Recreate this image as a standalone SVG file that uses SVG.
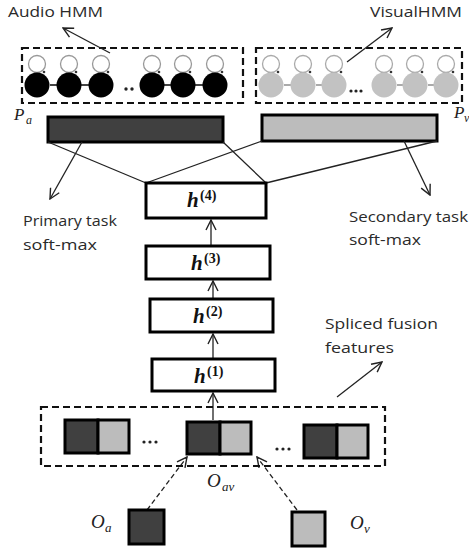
<svg xmlns="http://www.w3.org/2000/svg" width="469" height="548" viewBox="0 0 469 548">
<defs>
<marker id="arr" viewBox="0 0 12 12" refX="11" refY="6" markerWidth="12" markerHeight="12" markerUnits="userSpaceOnUse" orient="auto">
<path d="M1,1 L11,6 L1,11" fill="none" stroke="#222" stroke-width="1.4"/>
</marker>
<g id="aloop"><circle cx="0" cy="-21" r="8.5" fill="none" stroke="#999" stroke-width="1.3"/><circle cx="0" cy="0" r="12.5" fill="#000"/><circle cx="7" cy="-13" r="1.3" fill="#333"/></g>
<g id="vloop"><circle cx="0" cy="-21" r="8.5" fill="none" stroke="#aaa" stroke-width="1.3"/><circle cx="0" cy="0" r="12.5" fill="#c2c2c2"/><circle cx="7" cy="-13" r="1.3" fill="#333"/></g>
</defs>
<style>
.lbl{font-family:"Open Sans","DejaVu Sans",sans-serif;font-size:15px;fill:#2a2a2a}
.math{font-family:"Liberation Serif","DejaVu Serif",serif;font-style:italic;fill:#222}
.h{font-family:"Liberation Serif","DejaVu Serif",serif;font-weight:bold;fill:#111}
.dash{fill:none;stroke:#111;stroke-width:2.2;stroke-dasharray:7,4}
.box{fill:#fff;stroke:#000;stroke-width:3}
.conn{stroke:#222;stroke-width:1.3;fill:none}
.dark{fill:#404040;stroke:#000;stroke-width:3}
.light{fill:#bcbcbc;stroke:#000;stroke-width:3}
.dot{fill:#222}
</style>
<rect width="469" height="548" fill="#fff"/>

<g id="audio-hmm">
<rect class="dash" x="22" y="48" width="221" height="55"/>
<path d="M50,85 H57 M81,85 H89 M164,85 H171 M195,85 H203" stroke="#444" stroke-width="2"/>
<use href="#aloop" x="37" y="85"/><use href="#aloop" x="69" y="85"/><use href="#aloop" x="101" y="85"/>
<use href="#aloop" x="152" y="85"/><use href="#aloop" x="183" y="85"/><use href="#aloop" x="215" y="85"/>
<circle class="dot" cx="126" cy="89" r="1.7"/><circle class="dot" cx="132" cy="89" r="1.7"/>
<text class="lbl" x="8" y="17" textLength="95" lengthAdjust="spacingAndGlyphs">Audio HMM</text>
<text class="math" x="14" y="120" font-size="17">P</text><text class="math" x="26" y="124" font-size="12">a</text>
</g>

<g id="visual-hmm">
<rect class="dash" x="256" y="48" width="206" height="55"/>
<path d="M284,85 H291 M316,85 H322 M397,85 H403 M428,85 H434" stroke="#aaa" stroke-width="2"/>
<use href="#vloop" x="271" y="85"/><use href="#vloop" x="303" y="85"/><use href="#vloop" x="334" y="85"/>
<use href="#vloop" x="384" y="85"/><use href="#vloop" x="415" y="85"/><use href="#vloop" x="446" y="85"/>
<circle class="dot" cx="351" cy="91" r="1.6"/><circle class="dot" cx="356" cy="91" r="1.6"/><circle class="dot" cx="361" cy="91" r="1.6"/>
<text class="lbl" x="370" y="17" textLength="92" lengthAdjust="spacingAndGlyphs">VisualHMM</text>
<text class="math" x="454" y="118" font-size="17">P</text><text class="math" x="464" y="122" font-size="12">v</text>
</g>

<g id="primary-softmax">
<rect class="dark" x="48" y="117" width="175" height="25"/>
<text class="lbl" x="23" y="226" textLength="94" lengthAdjust="spacingAndGlyphs">Primary task</text>
<text class="lbl" x="23" y="250" textLength="74" lengthAdjust="spacingAndGlyphs">soft-max</text>
</g>

<g id="secondary-softmax">
<rect class="light" x="262" y="115" width="175" height="26"/>
<text class="lbl" x="349" y="222" textLength="119" lengthAdjust="spacingAndGlyphs">Secondary task</text>
<text class="lbl" x="349" y="245" textLength="72" lengthAdjust="spacingAndGlyphs">soft-max</text>
</g>

<g id="connectors">
<line class="conn" x1="48" y1="142" x2="146" y2="183"/>
<line class="conn" x1="223" y1="142" x2="266" y2="183"/>
<line class="conn" x1="262" y1="141" x2="146" y2="183"/>
<line class="conn" x1="437" y1="141" x2="266" y2="183"/>
<line class="conn" x1="82" y1="142" x2="50" y2="199" marker-end="url(#arr)"/>
<line class="conn" x1="404" y1="141" x2="430" y2="195" marker-end="url(#arr)"/>
<line class="conn" x1="110" y1="53" x2="63" y2="28" marker-end="url(#arr)"/>
<line class="conn" x1="347" y1="62" x2="392" y2="28" marker-end="url(#arr)"/>
<line class="conn" x1="211" y1="246" x2="211" y2="220" marker-end="url(#arr)"/>
<line class="conn" x1="213" y1="299" x2="213" y2="281" marker-end="url(#arr)"/>
<line class="conn" x1="213" y1="359" x2="213" y2="334" marker-end="url(#arr)"/>
<line class="conn" x1="213" y1="420" x2="213" y2="393" marker-end="url(#arr)"/>
<line class="conn" x1="337" y1="397" x2="382" y2="362" marker-end="url(#arr)"/>
<line class="conn" x1="147" y1="510" x2="187" y2="457" stroke-dasharray="5,3" marker-end="url(#arr)"/>
<line class="conn" x1="297" y1="510" x2="257" y2="457" stroke-dasharray="5,3" marker-end="url(#arr)"/>
</g>

<g id="h4">
<rect class="box" x="146" y="183" width="120" height="35"/>
<text class="h" x="187" y="207" font-size="21" font-style="italic">h</text><text class="h" x="200" y="200" font-size="14">(4)</text>
</g>
<g id="h3">
<rect class="box" x="146" y="246" width="124" height="33"/>
<text class="h" x="191" y="270" font-size="21" font-style="italic">h</text><text class="h" x="204" y="263" font-size="14">(3)</text>
</g>
<g id="h2">
<rect class="box" x="150" y="299" width="123" height="33"/>
<text class="h" x="193" y="323" font-size="21" font-style="italic">h</text><text class="h" x="206" y="316" font-size="14">(2)</text>
</g>
<g id="h1">
<rect class="box" x="152" y="359" width="123" height="32"/>
<text class="h" x="194" y="383" font-size="21" font-style="italic">h</text><text class="h" x="207" y="376" font-size="14">(1)</text>
</g>

<g id="spliced-features">
<rect class="dash" x="41" y="407" width="344" height="59"/>
<rect class="dark" x="65" y="420" width="33" height="33"/><rect class="light" x="98" y="420" width="31" height="33"/>
<circle class="dot" cx="144" cy="442" r="1.6"/><circle class="dot" cx="150" cy="442" r="1.6"/><circle class="dot" cx="156" cy="442" r="1.6"/>
<rect class="dark" x="187" y="422" width="33" height="32"/><rect class="light" x="220" y="422" width="31" height="32"/>
<circle class="dot" cx="277" cy="449" r="1.6"/><circle class="dot" cx="283" cy="449" r="1.6"/><circle class="dot" cx="289" cy="449" r="1.6"/>
<rect class="dark" x="304" y="425" width="33" height="33"/><rect class="light" x="337" y="425" width="31" height="33"/>
<text class="lbl" x="325" y="329" textLength="113" lengthAdjust="spacingAndGlyphs">Spliced fusion</text>
<text class="lbl" x="325" y="353" textLength="69" lengthAdjust="spacingAndGlyphs">features</text>
<text class="math" x="207" y="487" font-size="19">O</text><text class="math" x="222" y="491" font-size="13">av</text>
</g>

<g id="oa">
<rect class="dark" x="129" y="510" width="35" height="34"/>
<text class="math" x="91" y="528" font-size="19">O</text><text class="math" x="105" y="532" font-size="13">a</text>
</g>
<g id="ov">
<rect class="light" x="292" y="512" width="33" height="34"/>
<text class="math" x="350" y="529" font-size="19">O</text><text class="math" x="364" y="533" font-size="13">v</text>
</g>
</svg>
